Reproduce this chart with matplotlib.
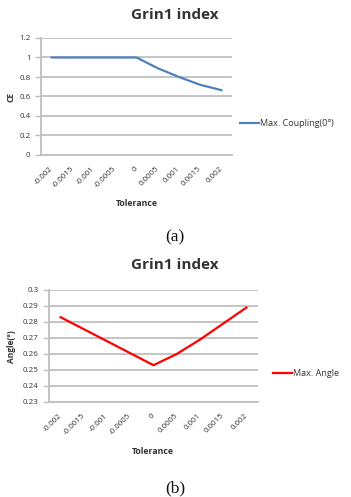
import matplotlib
matplotlib.use("Agg")
import matplotlib.pyplot as plt

categories = ["-0.002", "-0.0015", "-0.001", "-0.0005", "0", "0.0005", "0.001", "0.0015", "0.002"]
coupling = [1.0, 1.0, 1.0, 1.0, 1.0, 0.89, 0.80, 0.72, 0.665]
angle = [0.283, 0.2755, 0.268, 0.2605, 0.253, 0.260, 0.269, 0.279, 0.289]
yticks_a = [0, 0.2, 0.4, 0.6, 0.8, 1, 1.2]
ylabels_a = ["0", "0.2", "0.4", "0.6", "0.8", "1", "1.2"]
yticks_b = [0.23, 0.24, 0.25, 0.26, 0.27, 0.28, 0.29, 0.3]
ylabels_b = ["0.23", "0.24", "0.25", "0.26", "0.27", "0.28", "0.29", "0.3"]

W, H = 351, 497
fig = plt.figure(figsize=(W / 100, H / 100), dpi=100)
FONT = ["Open Sans", "DejaVu Sans"]
GRID = "#bfbfbf"
TXT = "#333333"
FS = 5.8


def px_axes(x0, x1, ytop, ybot):
    return fig.add_axes([x0 / W, 1 - ybot / H, (x1 - x0) / W, (ybot - ytop) / H])


def style(ax, yticks, ylabels, ylim):
    x = list(range(len(categories)))
    ax.set_xlim(-0.5, len(categories) - 0.5)
    ax.set_ylim(*ylim)
    ax.set_yticks(yticks)
    ax.set_yticklabels(ylabels, family=FONT, fontsize=FS, color=TXT)
    ax.set_xticks(x)
    ax.set_xticklabels(categories, family=FONT, fontsize=FS, color=TXT,
                       rotation=45, ha="right", va="center", rotation_mode="anchor")
    ax.yaxis.grid(True, color=GRID, linewidth=1.3)
    ax.set_axisbelow(True)
    for s in ["top", "right"]:
        ax.spines[s].set_visible(False)
    for s in ["left", "bottom"]:
        ax.spines[s].set_color(GRID)
        ax.spines[s].set_linewidth(1.3)
    ax.tick_params(axis="y", length=4, width=1, color=GRID, pad=3.5)
    ax.tick_params(axis="x", length=0, pad=9)
    return x


def legend(ax, xpx, ypx):
    ax.legend(loc="center left", bbox_to_anchor=(xpx / W, 1 - ypx / H), bbox_transform=fig.transFigure,
              frameon=False, prop={"family": FONT, "size": 6.5}, handlelength=2.1,
              handletextpad=0.1, borderpad=0, borderaxespad=0, labelcolor=TXT)


# ---- chart (a)
ax1 = px_axes(41, 232, 38, 155)
x = style(ax1, yticks_a, ylabels_a, (0, 1.2))
ax1.plot(x, coupling, color="#4F81BD", linewidth=1.6, label="Max. Coupling(0°)")
fig.text(175 / W, 1 - 15 / H, "Grin1 index", family=FONT, fontsize=11, fontweight="bold",
         color="#333333", ha="center", va="center")
fig.text(137 / W, 1 - 203 / H, "Tolerance", family=FONT, fontsize=6.3, fontweight="bold",
         color=TXT, ha="center", va="center")
fig.text(11 / W, 1 - 97 / H, "CE", family=FONT, fontsize=6, fontweight="bold",
         color=TXT, ha="center", va="center", rotation=90)
legend(ax1, 240, 124)
fig.text(175 / W, 1 - 237 / H, "(a)", family="Liberation Serif", fontsize=12.5,
         ha="center", va="center", color="#111111")

# ---- chart (b)
ax2 = px_axes(49, 258, 290, 402)
x = style(ax2, yticks_b, ylabels_b, (0.23, 0.3))
ax2.plot(x, angle, color="#FF0000", linewidth=1.6, label="Max. Angle")
fig.text(175 / W, 1 - 265 / H, "Grin1 index", family=FONT, fontsize=11, fontweight="bold",
         color="#333333", ha="center", va="center")
fig.text(153 / W, 1 - 452 / H, "Tolerance", family=FONT, fontsize=6.3, fontweight="bold",
         color=TXT, ha="center", va="center")
fig.text(12 / W, 1 - 347 / H, "Angle(°)", family=FONT, fontsize=6, fontweight="bold",
         color=TXT, ha="center", va="center", rotation=90)
legend(ax2, 273, 374)
fig.text(175 / W, 1 - 488 / H, "(b)", family="Liberation Serif", fontsize=12.5,
         ha="center", va="center", color="#111111")

fig.savefig("out.png", dpi=100)
